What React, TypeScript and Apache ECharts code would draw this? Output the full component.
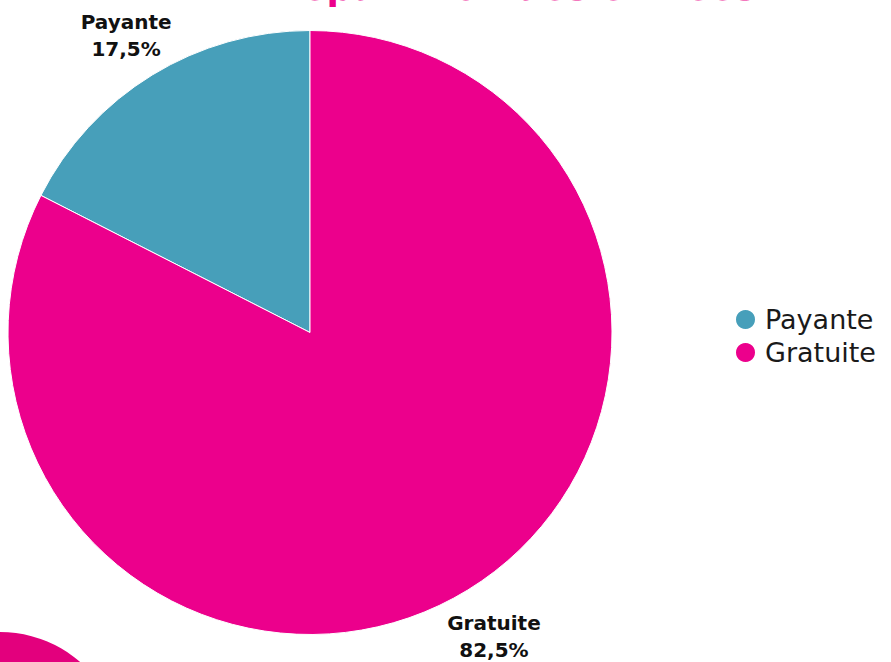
import React, { useEffect, useRef } from "react";
import * as echarts from "echarts";

const categories = ["Payante", "Gratuite"];
const values = [17.5, 82.5];
const colors = ["#479FBA", "#EC008C"];
const titleText = "Répartition des entrées";

export default function App() {
  const ref = useRef<HTMLDivElement>(null);
  useEffect(() => {
    document.body.style.margin = "0";
    if (!ref.current) return;
    const chart = echarts.init(ref.current, undefined, { renderer: "svg" });
    const data = categories.map((name, i) => ({
      name,
      value: values[i],
      itemStyle: { color: colors[i] },
    }));
    const fmt = (p: any) =>
      p.name + "\n" + p.percent.toFixed(1).replace(".", ",") + "%";
    chart.setOption({
      animation: false,
      backgroundColor: "#ffffff",
      legend: {
        orient: "vertical",
        left: 729,
        top: 301,
        data: categories,
        icon: "circle",
        itemWidth: 21,
        itemHeight: 21,
        itemGap: 6,
        textStyle: {
          fontFamily: "DejaVu Sans",
          fontSize: 27,
          color: "#1a1a1a",
          padding: [0, 0, 0, 4],
        },
      },
      graphic: [
        {
          type: "circle",
          shape: { cx: 0, cy: 754, r: 122 },
          style: { fill: "#E3007D" },
          silent: true,
        },
        {
          type: "text",
          x: 515,
          y: 5,
          style: {
            text: titleText,
            fill: "#EC008C",
            font: "bold 36px 'DejaVu Sans'",
            textAlign: "center",
            textVerticalAlign: "bottom",
          },
          silent: true,
        },
      ],
      series: [
        {
          type: "pie",
          center: [310, 332.5],
          radius: [0, 302],
          startAngle: 90,
          clockwise: false,
          label: { show: false },
          labelLine: { show: false },
          itemStyle: { borderColor: "#ffffff", borderWidth: 1 },
          emphasis: { disabled: true },
          data,
        },
        {
          type: "pie",
          center: [310, 336],
          radius: [339, 359],
          startAngle: 90,
          clockwise: false,
          silent: true,
          itemStyle: { color: "rgba(0,0,0,0)" },
          emphasis: { disabled: true },
          labelLine: { show: false },
          label: {
            show: true,
            position: "inside",
            formatter: fmt,
            fontFamily: "DejaVu Sans",
            fontWeight: "bold",
            fontSize: 20,
            lineHeight: 27,
            color: "#111111",
            align: "center",
          },
          data: categories.map((name, i) => ({ name, value: values[i] })),
        },
      ],
    });
    return () => chart.dispose();
  }, []);
  return <div ref={ref} style={{ width: 891, height: 662 }} />;
}
